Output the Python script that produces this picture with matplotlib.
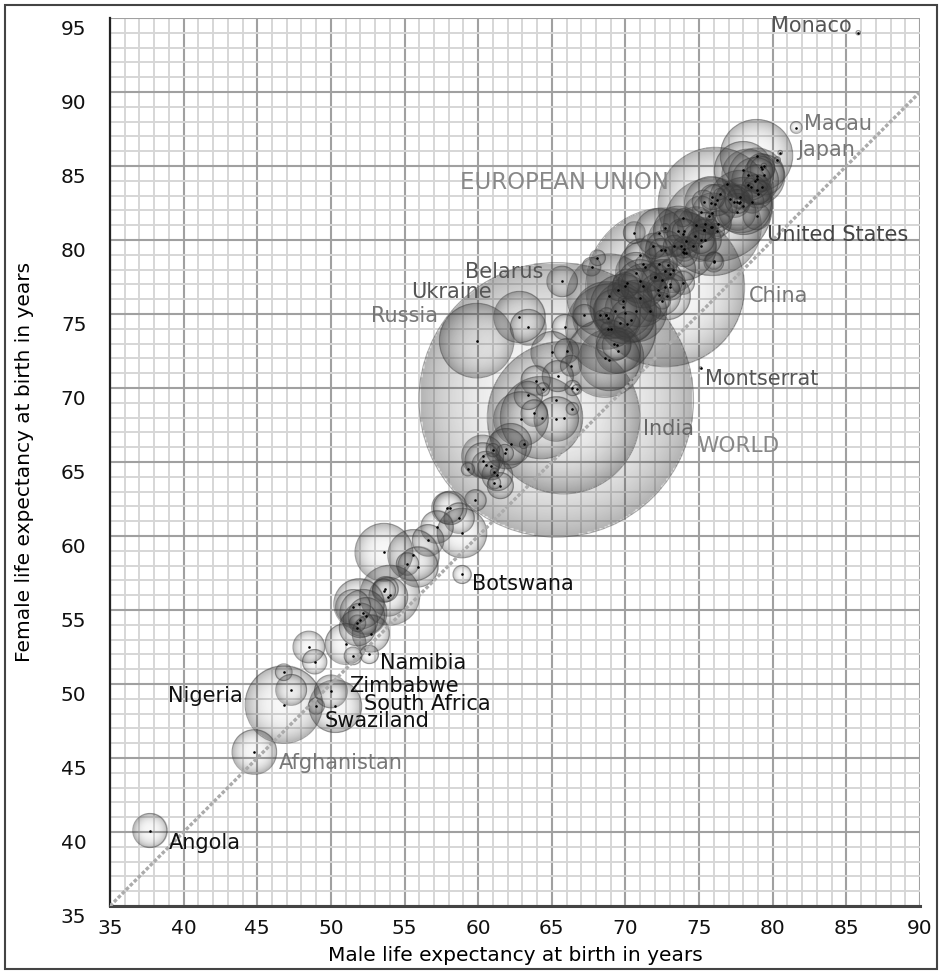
import numpy as np
import matplotlib.pyplot as plt
from matplotlib.patches import Rectangle, Ellipse
from matplotlib.transforms import ScaledTranslation

plt.rcParams['font.family'] = 'DejaVu Sans'

# life expectancy at birth (years) and population (millions)
names = ['WORLD', 'China', 'India', 'EUROPEAN UNION', 'United States', 'Indonesia', 'Brazil',
         'Pakistan', 'Bangladesh', 'Nigeria', 'Russia', 'Japan', 'Mexico', 'Philippines',
         'Vietnam', 'Ethiopia', 'Egypt', 'Germany', 'Iran', 'Turkey', 'DR Congo', 'Thailand',
         'France', 'United Kingdom', 'Italy', 'Burma', 'South Africa', 'South Korea', 'Spain',
         'Ukraine', 'Tanzania', 'Colombia', 'Sudan', 'Kenya', 'Argentina', 'Poland', 'Algeria',
         'Uganda', 'Canada', 'Morocco', 'Iraq', 'Afghanistan', 'Peru', 'Nepal', 'Malaysia',
         'Uzbekistan', 'Venezuela', 'Saudi Arabia', 'Ghana', 'North Korea', 'Yemen', 'Taiwan',
         'Mozambique', 'Syria', 'Australia', 'Madagascar', 'Romania', "Cote d'Ivoire",
         'Sri Lanka', 'Cameroon', 'Chile', 'Burkina Faso', 'Netherlands', 'Niger', 'Kazakhstan',
         'Malawi', 'Ecuador', 'Cambodia', 'Mali', 'Zambia', 'Guatemala', 'Angola', 'Senegal',
         'Zimbabwe', 'Rwanda', 'Cuba', 'Chad', 'Somalia', 'Guinea', 'Tunisia', 'Greece',
         'Portugal', 'Belgium', 'Czech Republic', 'Burundi', 'Bolivia', 'Hungary',
         'Dominican Republic', 'Haiti', 'Belarus', 'Benin', 'Sweden', 'Azerbaijan', 'Austria',
         'Honduras', 'Switzerland', 'Tajikistan', 'Israel', 'Serbia', 'Bulgaria', 'Hong Kong',
         'Togo', 'Libya', 'Laos', 'Paraguay', 'Jordan', 'Papua New Guinea', 'El Salvador',
         'Eritrea', 'Nicaragua', 'Kyrgyzstan', 'Denmark', 'Slovakia', 'Sierra Leone', 'Finland',
         'United Arab Emirates', 'Singapore', 'Turkmenistan', 'Norway', 'Ireland', 'Georgia',
         'Costa Rica', 'Croatia', 'New Zealand', 'Congo', 'Lebanon', 'Puerto Rico', 'Liberia',
         'Bosnia', 'Moldova', 'Panama', 'Mauritania', 'Uruguay', 'Mongolia', 'Oman', 'Albania',
         'Armenia', 'Jamaica', 'Kuwait', 'West Bank', 'Lithuania', 'Latvia', 'Namibia',
         'Macedonia', 'Slovenia', 'Botswana', 'Lesotho', 'Gambia', 'Qatar', 'Gaza Strip',
         'Gabon', 'Guinea-Bissau', 'Swaziland', 'Estonia', 'Mauritius', 'Bahrain', 'Trinidad',
         'Timor-Leste', 'Cyprus', 'Fiji', 'Comoros', 'Djibouti', 'Guyana', 'Bhutan',
         'Equatorial Guinea', 'Montenegro', 'Macau', 'Solomon Islands', 'Cape Verde',
         'Luxembourg', 'Suriname', 'Malta', 'Brunei', 'Maldives', 'Bahamas', 'Iceland', 'Belize',
         'Barbados', 'French Polynesia', 'New Caledonia', 'Vanuatu', 'Samoa', 'Sao Tome',
         'Saint Lucia', 'Guam', 'Monaco', 'Montserrat', 'San Marino', 'Andorra', 'Guernsey',
         'Jersey', 'Bermuda', 'Liechtenstein', 'Central African Rep.']
male = [65.3, 72.7, 65.8, 76.1, 75.9, 69.0, 68.9,
        64.3, 68.6, 46.8, 59.9, 78.9, 73.8, 68.7,
        69.8, 53.6, 70.0, 77.8, 68.9, 70.7, 54.0, 71.0,
        78.0, 78.0, 78.9, 62.9, 50.3, 75.8, 78.3,
        62.8, 51.9, 71.3, 55.6, 58.9, 73.6, 72.3, 72.8,
        52.2, 78.8, 73.2, 69.5, 44.8, 70.4, 65.3, 71.2,
        69.3, 71.0, 72.3, 60.3, 65.0, 62.2, 75.9,
        51.0, 72.5, 79.4, 61.9, 70.7, 55.9,
        72.7, 53.9, 74.8, 52.7, 77.6, 52.4, 63.4,
        51.8, 72.3, 60.3, 51.5, 52.0, 69.2, 37.7, 58.1,
        50.0, 57.2, 75.4, 48.5, 47.3, 56.6, 73.0, 77.4,
        75.1, 76.2, 73.9, 57.9, 65.4, 71.0,
        75.1, 61.3, 65.7, 58.7, 78.9, 63.9, 77.1,
        69.4, 78.9, 63.4, 79.0, 72.0, 70.1, 79.2,
        60.5, 75.1, 60.9, 74.0, 78.9, 63.8, 70.0,
        61.5, 70.1, 65.9, 76.3, 71.9, 53.7, 75.9,
        74.0, 79.3, 66.0, 77.6, 77.8, 74.0,
        75.3, 72.4, 78.6, 53.6, 73.9, 75.3, 55.2,
        75.4, 67.2, 74.7, 59.8, 73.3, 66.3, 72.2, 75.3,
        69.5, 71.7, 76.0, 73.0, 70.6, 67.7, 52.6,
        72.7, 73.9, 58.9, 51.5, 61.8, 76.0, 72.5,
        51.8, 46.8, 49.0, 68.1, 71.2, 76.2, 68.7,
        66.4, 75.8, 68.8, 61.0, 59.3, 64.4, 66.4,
        61.1, 73.9, 81.6, 72.9, 69.6,
        76.4, 68.8, 77.7, 74.6, 73.0, 68.3, 79.3, 66.7,
        72.0, 74.1, 72.7, 63.1, 69.8, 61.1,
        74.1, 75.7, 85.8, 75.1, 80.5, 80.3, 79.4,
        78.5, 78.3, 76.9, 48.9]
female = [69.2, 76.8, 68.0, 82.4, 80.9, 74.0, 76.2,
          68.0, 72.0, 48.6, 73.2, 85.7, 79.6, 74.9,
          75.5, 58.9, 75.1, 82.6, 71.9, 75.2, 56.0, 76.1,
          84.7, 82.3, 84.3, 67.9, 48.5, 82.5, 84.4,
          74.8, 55.4, 78.2, 58.7, 60.2, 80.6, 80.5, 76.2,
          54.8, 84.0, 78.0, 72.5, 45.4, 74.6, 67.9, 76.9,
          75.2, 77.2, 76.3, 65.4, 72.4, 66.2, 81.8,
          52.7, 77.3, 84.4, 65.9, 77.8, 57.9,
          79.3, 55.9, 81.0, 53.4, 81.9, 54.6, 74.1,
          53.8, 78.4, 65.1, 55.2, 54.3, 73.0, 40.1, 61.9,
          49.5, 60.6, 80.0, 52.5, 49.6, 59.7, 77.0, 82.6,
          81.9, 82.7, 80.4, 61.9, 70.8, 79.0,
          79.6, 64.1, 77.2, 61.2, 83.4, 70.5, 82.8,
          72.9, 84.1, 69.5, 83.1, 77.5, 77.1, 84.9,
          64.8, 80.0, 64.7, 79.1, 81.6, 68.3, 76.9,
          63.4, 74.3, 74.1, 81.1, 79.6, 56.4, 82.9,
          79.4, 84.8, 72.5, 82.6, 82.9, 80.6,
          80.7, 79.3, 82.6, 56.3, 77.1, 82.6, 58.1,
          81.1, 74.9, 80.3, 62.4, 79.6, 71.5, 76.6, 80.7,
          76.6, 75.2, 78.5, 76.8, 80.5, 78.2, 52.0,
          77.9, 81.5, 57.4, 51.9, 65.6, 78.6, 75.9,
          54.1, 50.8, 48.5, 78.8, 78.4, 80.6, 74.9,
          70.0, 80.9, 74.0, 65.8, 64.5, 69.9, 68.6,
          63.6, 79.2, 87.6, 78.3, 74.4,
          83.1, 74.7, 82.5, 79.6, 77.7, 74.9, 83.6, 69.9,
          77.5, 79.1, 80.8, 66.2, 75.9, 64.3,
          79.9, 81.6, 94.0, 71.35, 85.9, 85.4, 85.0,
          83.6, 83.7, 83.8, 51.5]
pop = [6930, 1340, 1190, 500, 313, 245, 203,
       187, 158, 155, 139, 127, 113, 102,
       90, 65, 82, 81.5, 77.9, 78.8, 72, 66.7,
       65, 62.7, 61, 54, 49, 48.8, 46,
       45, 42.7, 44.7, 45, 41, 41.8, 38.4, 34.9,
       34.6, 34, 31.9, 30, 29.8, 29.5, 29.4, 28.7,
       28, 27.6, 26, 24.8, 24.5, 24, 23,
       22.9, 22.5, 21.8, 21.9, 21.9, 21.5,
       21.3, 19.7, 16.9, 17, 16.8, 16.5, 15.5,
       15.9, 15, 14.7, 14.2, 13.9, 13.8, 13.3, 12.6,
       12, 11.4, 11.1, 10.8, 9.9, 10.6, 10.6, 10.8,
       10.8, 10.4, 10.2, 10.2, 10, 10,
       9.9, 9.7, 9.6, 9.3, 9.1, 8.4, 8.2,
       8.1, 7.6, 7.6, 7.5, 7.3, 7.1, 7.1,
       6.8, 6.6, 6.5, 6.5, 6.5, 6.2, 6.1,
       5.9, 5.7, 5.6, 5.5, 5.5, 5.4, 5.3,
       5.1, 5.1, 5, 4.7, 4.7, 4.6,
       4.6, 4.5, 4.3, 4.2, 4.1, 4.0, 3.8,
       3.8, 3.6, 3.5, 3.3, 3.3, 3.1, 3.0, 3.0,
       3.0, 2.9, 2.6, 2.6, 3.5, 2.2, 2.1,
       2.1, 2.0, 2.0, 1.9, 1.8, 1.7, 1.6,
       1.6, 1.6, 1.4, 1.3, 1.3, 1.2, 1.2,
       1.2, 1.1, 0.88, 0.79, 0.76, 0.75, 0.7,
       0.67, 0.66, 0.57, 0.57, 0.5,
       0.5, 0.49, 0.41, 0.4, 0.39, 0.31, 0.31, 0.32,
       0.29, 0.29, 0.26, 0.22, 0.19, 0.18,
       0.16, 0.18, 0.031, 0.005, 0.032, 0.085, 0.065,
       0.094, 0.07, 0.035, 4.9]

# labelled bubbles: side of the bubble, gap and vertical shift (pixels), text grey, size
label_names = ['Monaco', 'Macau', 'Japan', 'EUROPEAN UNION', 'United States', 'China',
               'Montserrat', 'India', 'WORLD', 'Russia', 'Ukraine', 'Belarus', 'Botswana',
               'Namibia', 'Zimbabwe', 'South Africa', 'Swaziland', 'Nigeria', 'Afghanistan',
               'Angola']
label_side = ['l', 'r', 'r', 'l', 'r', 'r', 'r', 'r', 'r', 'l', 'l', 'l', 'r', 'r', 'r', 'r',
              'r', 'l', 'r', 'r']
label_gap = [4, 2, 4, -11, 6, 4, 3, 3, 4, 1, 2, 3, 1, 2, 2, 2, 0, 2, 2, 2]
label_dy = [7, 4, 6, 22, -8, -9, -11, -11, -46, 25, 25, 9, -10, -9, 5, 2, -15, 9, -11, -12]
label_grey = ['#555555', '#777777', '#777777', '#888888', '#444444', '#777777', '#555555',
              '#666666', '#888888', '#777777', '#555555', '#555555', '#111111', '#111111',
              '#111111', '#111111', '#111111', '#111111', '#777777', '#111111']
label_size = [15, 15, 15, 16.5, 15, 15, 15, 15, 15.6, 15, 15, 15, 15, 15, 15, 15, 15, 15, 15, 15]

lo, hi = 35, 90
y_lo, y_hi = 35, 95
R_SCALE = 7.2  # bubble radius in pixels per cube root of population (millions)

W, H = 940, 972
fig = plt.figure(figsize=(W / 100, H / 100), dpi=100)
ax_l, ax_r, ax_t, ax_b = 110, 920, 18, 906
ax = fig.add_axes([ax_l / W, 1 - ax_b / H, (ax_r - ax_l) / W, (ax_b - ax_t) / H])
ax.set_xlim(lo, hi)
ax.set_ylim(y_lo, y_hi)

ax.set_xticks(np.arange(lo, hi + 1, 5))
ax.set_yticks(np.arange(y_lo, y_hi + 1, 5))
ax.set_xticks(np.arange(lo, hi + 1, 1), minor=True)
ax.set_yticks(np.arange(y_lo, y_hi + 1, 1), minor=True)
ax.grid(which='minor', color='#d6d6d6', lw=1.4)
ax.grid(which='major', color='#a0a0a0', lw=1.5)
ax.set_axisbelow(True)
ax.tick_params(which='both', length=0, labelsize=14.5, colors='#111111')
ax.tick_params(axis='x', pad=9)
ax.tick_params(axis='y', pad=17)
for lbl in ax.get_yticklabels():
    lbl.set_transform(lbl.get_transform() + ScaledTranslation(0, -7 / 72, fig.dpi_scale_trans))
for s in ['top', 'right']:
    ax.spines[s].set_visible(False)
ax.spines['left'].set_color('#222222')
ax.spines['left'].set_linewidth(1.6)
ax.spines['bottom'].set_color('#444444')
ax.spines['bottom'].set_linewidth(2.2)

ax.set_xlabel('Male life expectancy at birth in years', fontsize=14.5, labelpad=6)
ax.set_ylabel('Female life expectancy at birth in years', fontsize=14.5, labelpad=19)

# pixels per year along each axis
px_x = (ax_r - ax_l) / (hi - lo)
px_y = (ax_b - ax_t) / (y_hi - y_lo)

# shaded sphere sprite: light centre, darker rim
n = 160
g = np.linspace(-1, 1, n)
xx, yy = np.meshgrid(g, g)
rho = np.hypot(xx, yy)
alpha = 0.04 + 0.36 * rho ** 3
alpha = np.where(rho <= 1.0, alpha, 0.0)
sprite = np.zeros((n, n, 4))
sprite[..., :3] = 0.25
sprite[..., 3] = alpha

male_a = np.array(male)
female_a = np.array(female)
pop_a = np.array(pop)
radius_px = R_SCALE * np.cbrt(pop_a)

order = np.argsort(-pop_a)
for k, i in enumerate(order):
    rx = radius_px[i] / px_x
    ry = radius_px[i] / px_y
    ax.imshow(sprite, extent=[male_a[i] - rx, male_a[i] + rx, female_a[i] - ry, female_a[i] + ry],
              interpolation='bilinear', aspect='auto', zorder=1 + k * 1e-3)
    ax.add_patch(Ellipse((male_a[i], female_a[i]), 2 * rx, 2 * ry, fc='none',
                         ec=(0.22, 0.22, 0.22, 0.4), lw=0.8, zorder=1 + k * 1e-3))

ax.set_xlim(lo, hi)
ax.set_ylim(y_lo, y_hi)

# equal life expectancy reference
ax.plot([lo, hi], [lo, hi], color='#ababab', lw=2.4, ls=(0, (1.1, 0.6)), zorder=3)

ax.scatter(male_a, female_a, s=3.5, c='black', lw=0, zorder=4)

for name, side, gap, dy, col, fs in zip(label_names, label_side, label_gap, label_dy,
                                        label_grey, label_size):
    i = names.index(name)
    off = radius_px[i] + gap
    dx = off if side == 'r' else -off
    ax.annotate(name, (male_a[i], female_a[i]), xytext=(dx * 0.72, dy * 0.72),
                textcoords='offset points', ha='left' if side == 'r' else 'right',
                va='center', fontsize=fs, color=col, zorder=5, annotation_clip=False)

fig.patches.append(Rectangle((5 / W, 1 - 969 / H), 932 / W, 964 / H, transform=fig.transFigure,
                             fill=False, ec='#444444', lw=1.5))

fig.savefig('out.png', dpi=100)
